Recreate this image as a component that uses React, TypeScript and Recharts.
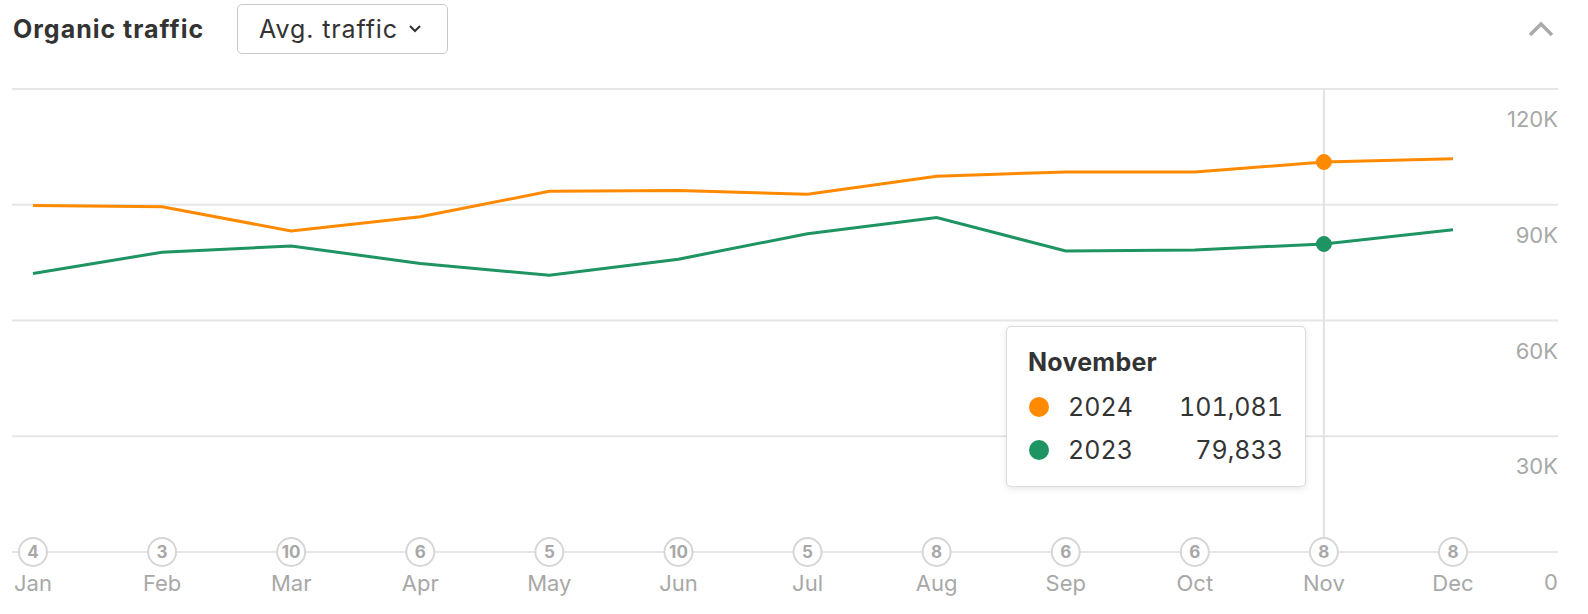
import React from 'react';
import { LineChart, Line, XAxis, YAxis, CartesianGrid, Tooltip } from 'recharts';

const months = ['Jan', 'Feb', 'Mar', 'Apr', 'May', 'Jun', 'Jul', 'Aug', 'Sep', 'Oct', 'Nov', 'Dec'];
const monthNames = ['January', 'February', 'March', 'April', 'May', 'June', 'July', 'August', 'September', 'October', 'November', 'December'];
const traffic2024 = [89800, 89500, 83200, 86900, 93500, 93700, 92700, 97400, 98500, 98500, 101081, 101900];
const traffic2023 = [72200, 77700, 79300, 74800, 71700, 75900, 82500, 86700, 78000, 78300, 79833, 83500];
const updates = [4, 3, 10, 6, 5, 10, 5, 8, 6, 6, 8, 8];
const yTicks = [0, 30000, 60000, 90000, 120000];
const yTickLabels = ['0', '30K', '60K', '90K', '120K'];

const data = months.map((m, i) => ({
  month: m,
  name: monthNames[i],
  y2024: traffic2024[i],
  y2023: traffic2023[i],
  updates: updates[i],
}));

const ORANGE = '#FF8A00';
const GREEN = '#1F9463';
const FONT = 'Inter, "Noto Sans", sans-serif';

const XTick = (props: any) => {
  const { x, y, payload, index } = props;
  const n = updates[index];
  return (
    <g>
      <circle cx={x} cy={y} r={14} fill="#fff" stroke="#d6d6d6" strokeWidth={2} />
      <text x={x} y={y + 6} textAnchor="middle" fontFamily={FONT} fontSize={17} fontWeight={700} fill="#a8a8a8">{n}</text>
      <text x={x} y={y + 39} textAnchor="middle" fontFamily={FONT} fontSize={22} fill="#a8a8a8">{payload.value}</text>
    </g>
  );
};

const YTick = (props: any) => {
  const { y, payload } = props;
  const idx = yTicks.indexOf(payload.value);
  return (
    <text x={1558} y={y + 38} textAnchor="end" fontFamily={FONT} fontSize={22} fill="#a8a8a8">{yTickLabels[idx]}</text>
  );
};

const TipContent = (props: any) => {
  const { active, payload } = props;
  if (!active || !payload || !payload.length) return null;
  const row = payload[0].payload;
  const rows = [
    { label: '2024', value: row.y2024, color: ORANGE },
    { label: '2023', value: row.y2023, color: GREEN },
  ];
  return (
    <div style={{
      width: 300, height: 161, boxSizing: 'border-box', background: '#fff', border: '1px solid #dcdcdc',
      borderRadius: 5, boxShadow: '0 2px 6px rgba(0,0,0,0.10)', padding: '18px 22px 0 21px', fontFamily: FONT, color: '#333',
    }}>
      <div style={{ fontWeight: 700, fontSize: 25, letterSpacing: 0.25, lineHeight: '34px', marginBottom: 6 }}>{row.name}</div>
      {rows.map((r) => (
        <div key={r.label} style={{ display: 'flex', alignItems: 'center', height: 43, fontSize: 25, fontVariantNumeric: 'tabular-nums' }}>
          <span style={{ width: 20, height: 20, borderRadius: 10, background: r.color, display: 'inline-block', marginRight: 19, marginLeft: 1 }} />
          <span style={{ flex: 1 }}>{r.label}</span>
          <span>{r.value.toLocaleString('en-US')}</span>
        </div>
      ))}
    </div>
  );
};

export default function App() {
  return (
    <div style={{ position: 'absolute', left: 0, top: 0, width: 1588, height: 614, background: '#fff', fontFamily: FONT }}>
      <div style={{ position: 'absolute', left: 13, top: 12, fontSize: 25, letterSpacing: 1.0, fontWeight: 700, color: '#333', lineHeight: '34px' }}>Organic traffic</div>
      <div style={{
        position: 'absolute', left: 237, top: 4, width: 211, height: 50, boxSizing: 'border-box', border: '1px solid #c8c8c8',
        borderRadius: 5, display: 'flex', alignItems: 'center', paddingLeft: 21, fontSize: 25, letterSpacing: 0.9, color: '#333',
      }}>
        <span>Avg. traffic</span>
        <svg width="14" height="10" style={{ marginLeft: 10 }}>
          <polyline points="2,2 7,7 12,2" fill="none" stroke="#333" strokeWidth={2} />
        </svg>
      </div>
      <svg width="26" height="16" style={{ position: 'absolute', left: 1528, top: 21 }}>
        <polyline points="2,14 13,3 24,14" fill="none" stroke="#aaa" strokeWidth={3.5} />
      </svg>
      <div style={{ position: 'absolute', left: 0, top: 0 }}>
        <LineChart width={1588} height={614} data={data} margin={{ top: 89, right: 0, bottom: 0, left: 12 }}>
          <CartesianGrid vertical={false} stroke="#e6e6e6" strokeWidth={2} />
          <XAxis dataKey="month" height={62} tickSize={0} tickMargin={0} axisLine={false} tickLine={false}
            padding={{ left: 21, right: 105 }} tick={<XTick />} interval={0} />
          <YAxis orientation="right" width={30} domain={[0, 120000]} ticks={yTicks} axisLine={false} tickLine={false}
            tick={<YTick />} interval={0} />
          <Tooltip defaultIndex={10} active={true} content={<TipContent />} position={{ x: 1006, y: 326 }}
            cursor={{ stroke: '#e2e2e2', strokeWidth: 2 }} isAnimationActive={false} />
          <Line type="linear" dataKey="y2024" stroke={ORANGE} strokeWidth={3} dot={false}
            activeDot={{ r: 7.5, fill: ORANGE, stroke: ORANGE, strokeWidth: 1 }} isAnimationActive={false} />
          <Line type="linear" dataKey="y2023" stroke={GREEN} strokeWidth={3} dot={false}
            activeDot={{ r: 7.5, fill: GREEN, stroke: GREEN, strokeWidth: 1 }} isAnimationActive={false} />
        </LineChart>
      </div>
    </div>
  );
}
